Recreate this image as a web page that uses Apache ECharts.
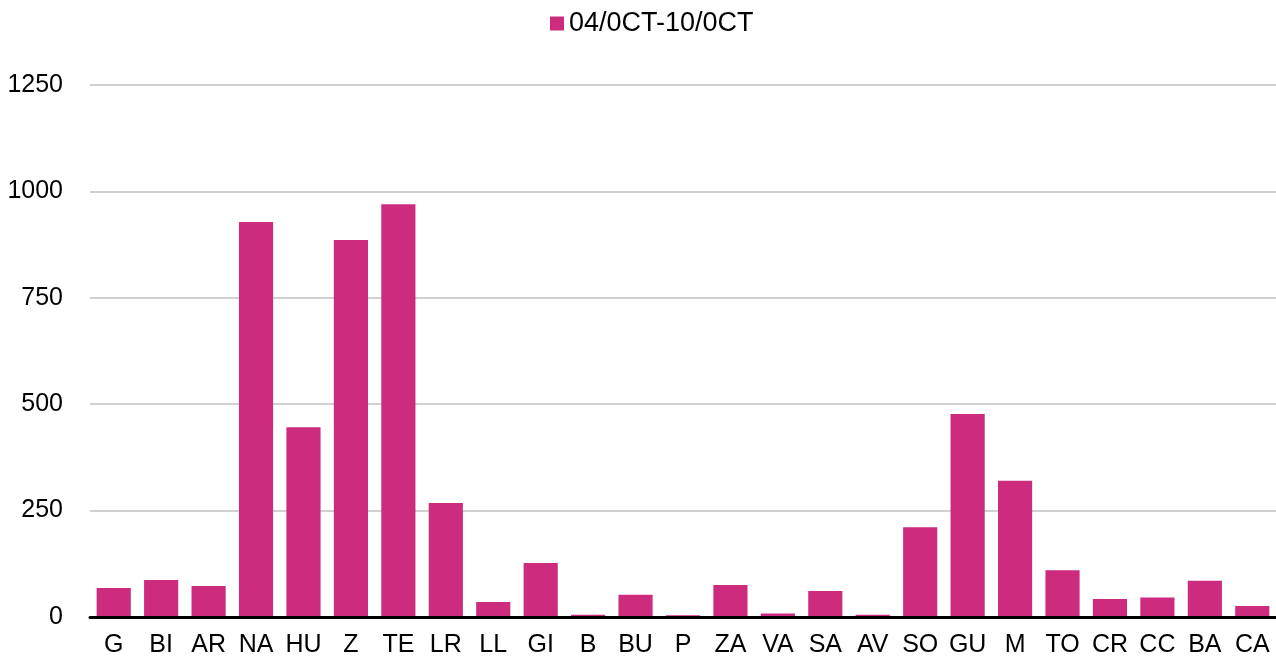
<!DOCTYPE html>
<html>
<head>
<meta charset="utf-8">
<script src="https://cdn.jsdelivr.net/npm/echarts@6/dist/echarts.min.js"></script>
<style>html,body{margin:0;padding:0;background:#fff}#c{width:1276px;height:664px}</style>
</head>
<body>
<div id="c"></div>
<script>
const categories = ['G','BI','AR','NA','HU','Z','TE','LR','LL','GI','B','BU','P','ZA','VA','SA','AV','SO','GU','M','TO','CR','CC','BA','CA'];
const values = [68,87,73,928,446,886,970,268,35,127,5,52,4,75,8,61,5,211,477,320,110,42,46,85,26];
const seriesName = '04/0CT-10/0CT';
const yTicks = {min:0, max:1250, interval:250};

const chart = echarts.init(document.getElementById('c'));
chart.setOption({
  animation:false,
  textStyle:{fontFamily:'Liberation Sans, Arial, sans-serif'},
  legend:{
    top:10, left:550, padding:0, itemWidth:14, itemHeight:14, itemGap:4,
    icon:'rect',
    textStyle:{fontSize:27, color:'#000', fontFamily:'Liberation Sans, Arial, sans-serif'},
    data:[seriesName]
  },
  grid:{left:90, right:0, top:85, bottom:47},
  xAxis:{
    type:'category', data:categories, z:10,
    axisLine:{lineStyle:{color:'#000', width:3}},
    axisTick:{show:false},
    axisLabel:{fontSize:25, color:'#000', margin:16, interval:0}
  },
  yAxis:{
    type:'value', min:yTicks.min, max:yTicks.max, interval:yTicks.interval,
    axisLine:{show:false}, axisTick:{show:false},
    axisLabel:{fontSize:25, color:'#000', margin:27, formatter:function(v){return String(v);}},
    splitLine:{lineStyle:{color:'#c0c0c0', width:1.5}}
  },
  series:[{
    name:seriesName, type:'bar', data:values,
    barCategoryGap:'28%',
    itemStyle:{color:'#cc2b7e'}
  }]
});
</script>
</body>
</html>
